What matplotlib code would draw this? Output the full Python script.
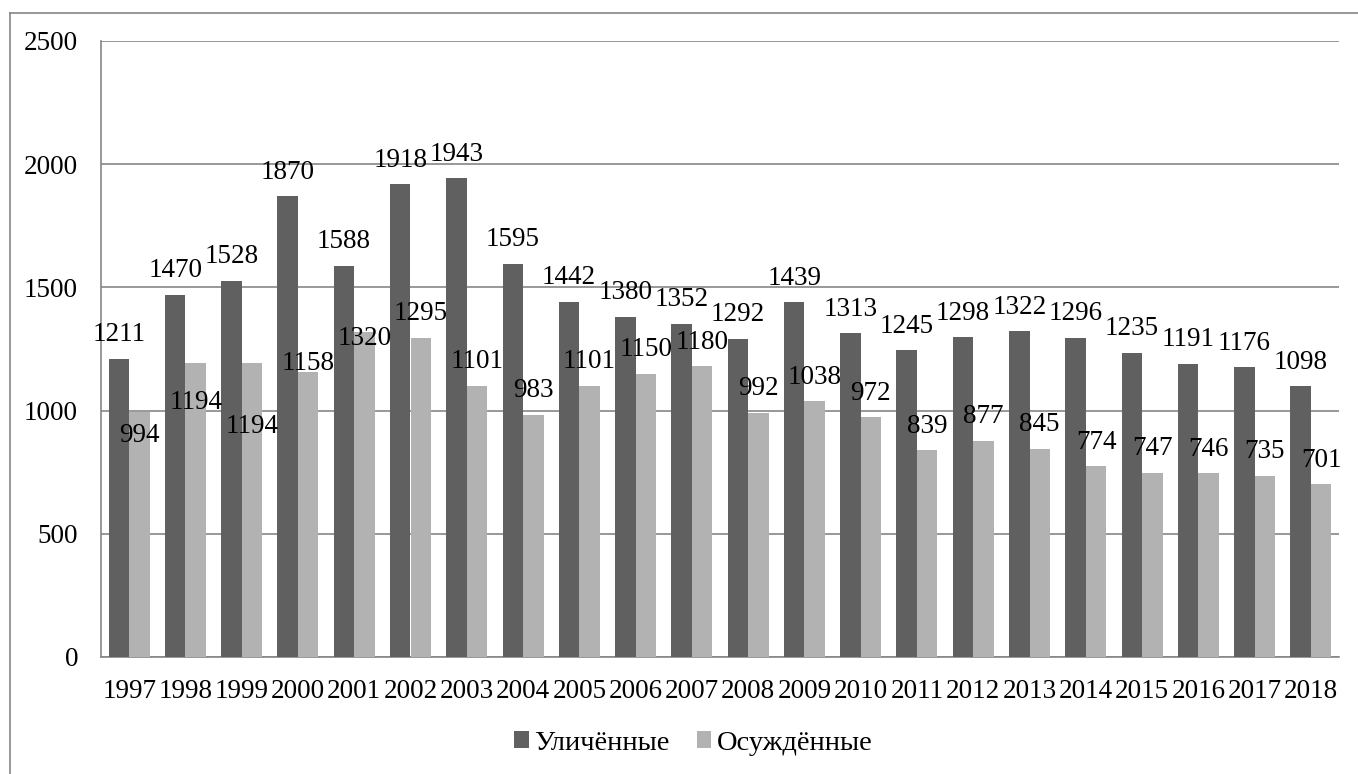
import matplotlib
matplotlib.use("Agg")
import matplotlib.pyplot as plt
import numpy as np
from matplotlib.lines import Line2D
from matplotlib.patches import Patch

years = ["1997", "1998", "1999", "2000", "2001", "2002", "2003", "2004", "2005", "2006", "2007",
         "2008", "2009", "2010", "2011", "2012", "2013", "2014", "2015", "2016", "2017", "2018"]
exposed = [1211, 1470, 1528, 1870, 1588, 1918, 1943, 1595, 1442, 1380, 1352,
           1292, 1439, 1313, 1245, 1298, 1322, 1296, 1235, 1191, 1176, 1098]
convicted = [994, 1194, 1194, 1158, 1320, 1295, 1101, 983, 1101, 1150, 1180,
             992, 1038, 972, 839, 877, 845, 774, 747, 746, 735, 701]
series_names = ["Уличённые", "Осуждённые"]
yticks = [0, 500, 1000, 1500, 2000, 2500]

# label vertical offsets in pixels (label centre relative to bar top)
dark_label_off = [27] * len(years)
light_label_off = [-20, -37, -61, 11, -4] + [27] * (len(years) - 5)

DARK = "#606060"
LIGHT = "#b2b2b2"
GRID = "#868686"
FONT = "Liberation Serif"
FS = 19.5

plt.rcParams['font.family'] = [FONT, 'DejaVu Serif']

W, H = 1358, 774
fig = plt.figure(figsize=(W / 100, H / 100), dpi=100)
ax = fig.add_axes([101 / W, 1 - 657 / H, (1339 - 101) / W, (657 - 41) / H])

x = np.arange(len(years))
bw = 0.364
ax.bar(x - bw / 2, exposed, bw, color=DARK, zorder=3)
ax.bar(x + bw / 2, convicted, bw, color=LIGHT, zorder=3)

px2pt = 72 / 100
for xi, v, off in zip(x, exposed, dark_label_off):
    ax.annotate(str(v), (xi - bw / 2, v), xytext=(0, off * px2pt), textcoords='offset points',
                ha='center', va='center_baseline', fontsize=FS, color='black', zorder=5)
for xi, v, off in zip(x, convicted, light_label_off):
    ax.annotate(str(v), (xi + bw / 2, v), xytext=(0, off * px2pt), textcoords='offset points',
                ha='center', va='center_baseline', fontsize=FS, color='black', zorder=5)

ax.set_xlim(-0.5, len(years) - 0.5)
ax.set_ylim(0, 2500)
ax.set_yticks(yticks)
ax.set_yticklabels([str(t) for t in yticks], fontsize=FS)
ax.set_xticks(x)
ax.set_xticklabels(years, fontsize=FS)
ax.tick_params(axis='both', length=0)
ax.tick_params(axis='y', pad=16.5)
ax.tick_params(axis='x', pad=16)
ax.yaxis.grid(True, color=GRID, linewidth=1.2, zorder=0)
ax.set_axisbelow(True)
for s in ['top', 'right']:
    ax.spines[s].set_visible(False)
for s in ['left', 'bottom']:
    ax.spines[s].set_color(GRID)
    ax.spines[s].set_linewidth(1.2)

handles = [Patch(facecolor=DARK), Patch(facecolor=LIGHT)]
fig.legend(handles, series_names, loc='center', bbox_to_anchor=(693.5 / W, 1 - 743 / H),
           ncol=2, frameon=False, fontsize=20.5, handlelength=0.5, handleheight=0.5,
           handletextpad=0.2, columnspacing=0.95)

# outer frame of the chart (left and top edges visible)
fig.add_artist(Line2D([10 / W, 10 / W], [0, 1 - 13 / H], color=GRID, linewidth=1.2,
                      transform=fig.transFigure))
fig.add_artist(Line2D([10 / W, 1], [1 - 13 / H, 1 - 13 / H], color=GRID, linewidth=1.2,
                      transform=fig.transFigure))

fig.savefig("out.png", dpi=100)
